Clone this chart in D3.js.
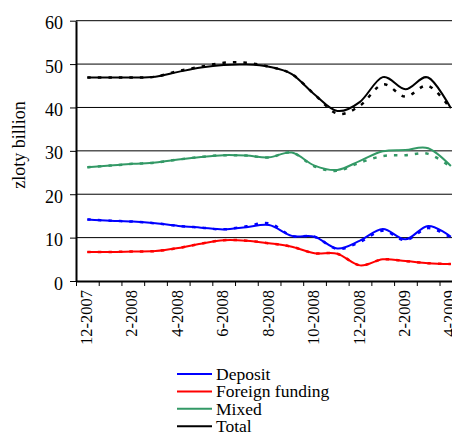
<!DOCTYPE html>
<html>
<head>
<meta charset="utf-8">
<script src="https://cdn.jsdelivr.net/npm/d3@7"></script>
<style>
  html, body { margin: 0; padding: 0; background: #fff; overflow: hidden; }
  svg { display: block; }
</style>
</head>
<body>
<svg id="chart" width="452" height="432"></svg>
<script>
// Monthly observations, 12-2007 to 4-2009 (zloty billion)
const months = ["12-2007","1-2008","2-2008","3-2008","4-2008","5-2008","6-2008","7-2008","8-2008",
                "9-2008","10-2008","11-2008","12-2008","1-2009","2-2009","3-2009","4-2009"];
const labelledMonths = ["12-2007","2-2008","4-2008","6-2008","8-2008","10-2008","12-2008","2-2009","4-2009"];
const yTicks = [0, 10, 20, 30, 40, 50, 60];

// Solid lines
const deposit  = [14.2, 13.9, 13.7, 13.3, 12.7, 12.3, 11.9, 12.4, 12.9, 10.4, 10.2, 7.5, 9.3, 12.0, 9.6, 12.7, 10.2];
const foreign  = [6.7, 6.7, 6.8, 6.9, 7.6, 8.6, 9.4, 9.3, 8.7, 7.9, 6.4, 6.3, 3.6, 5.0, 4.6, 4.1, 3.9];
const mixed    = [26.2, 26.6, 27.0, 27.3, 28.0, 28.6, 29.0, 28.9, 28.5, 29.6, 26.6, 25.6, 27.7, 29.9, 30.2, 30.6, 26.5];
const total    = [46.9, 46.9, 46.9, 47.1, 48.2, 49.2, 49.8, 49.9, 49.4, 47.7, 43.0, 39.2, 41.3, 47.0, 44.2, 46.9, 39.8];

// Dashed companion lines
const depositD = [14.2, 13.9, 13.7, 13.3, 12.7, 12.3, 11.9, 12.6, 13.3, 10.4, 10.2, 7.4, 9.0, 11.6, 9.4, 12.2, 10.0];
const foreignD = [6.7, 6.7, 6.8, 6.9, 7.6, 8.6, 9.4, 9.3, 8.7, 7.9, 6.4, 6.3, 3.6, 5.0, 4.6, 4.1, 3.9];
const mixedD   = [26.2, 26.6, 27.0, 27.3, 28.0, 28.6, 29.0, 28.9, 28.5, 29.6, 26.4, 25.4, 27.3, 28.8, 29.0, 29.3, 26.3];
const totalD   = [46.9, 46.9, 46.9, 47.1, 48.4, 49.4, 50.3, 50.3, 49.4, 47.7, 43.0, 38.6, 40.4, 45.3, 42.5, 45.0, 39.6];

const seriesNames  = ["Deposit", "Foreign funding", "Mixed", "Total"];
const seriesColors = ["#0000ff", "#ff0000", "#339966", "#000000"];
const solidSeries  = [deposit, foreign, mixed, total];
const dashedSeries = [depositD, foreignD, mixedD, totalD];

const FONT = "'Liberation Serif', Tinos, 'DejaVu Serif', 'Times New Roman', Times, serif";

const svg = d3.select("#chart").attr("font-family", FONT);
const plotLeft = 76, bandW = 22.72, plotBottom = 281, plotTop = 20.7;
const plotRight = plotLeft + bandW * months.length;

const x = d3.scaleBand().domain(months).range([plotLeft, plotRight]).paddingInner(0).paddingOuter(0);
const xEdge = d3.scaleLinear().domain([0, months.length]).range([plotLeft, plotRight]);
const y = d3.scaleLinear().domain([0, 60]).range([plotBottom, plotTop]);
const cx = m => x(m) + x.bandwidth() / 2;

// Horizontal gridlines
svg.append("g")
  .selectAll("line")
  .data(yTicks.filter(v => v > 0))
  .join("line")
  .attr("x1", plotLeft).attr("x2", plotRight)
  .attr("y1", d => y(d)).attr("y2", d => y(d))
  .attr("stroke", "#000").attr("stroke-width", 1);

// Y axis
const yAxis = svg.append("g")
  .attr("transform", `translate(${plotLeft},0)`)
  .call(d3.axisLeft(y).tickValues(yTicks).tickSize(6).tickPadding(7).tickSizeOuter(0))
  .attr("font-family", FONT).attr("font-size", 18);
yAxis.select(".domain").attr("stroke", "#000").attr("stroke-width", 2);
yAxis.selectAll(".tick line").attr("stroke", "#000");
yAxis.selectAll(".tick text").attr("dy", "0.45em").attr("fill", "#000");

// X axis: tick marks at month boundaries
const xTickAxis = svg.append("g")
  .attr("transform", `translate(0,${plotBottom})`)
  .call(d3.axisBottom(xEdge).tickValues(d3.range(0, months.length + 1)).tickSize(5).tickFormat("").tickSizeOuter(0));
xTickAxis.select(".domain").attr("stroke", "#000").attr("stroke-width", 2);
xTickAxis.selectAll(".tick line").attr("stroke", "#000");

// X axis: month labels centred in each band, rotated
const xLabelAxis = svg.append("g")
  .attr("transform", `translate(0,${plotBottom})`)
  .call(d3.axisBottom(x).tickValues(labelledMonths).tickSize(0).tickSizeOuter(0))
  .attr("font-family", FONT).attr("font-size", 16.5);
xLabelAxis.select(".domain").remove();
xLabelAxis.selectAll(".tick text")
  .attr("fill", "#000")
  .attr("text-anchor", "end")
  .attr("dominant-baseline", "central")
  .attr("dy", null)
  .attr("y", 0)
  .attr("transform", "translate(-1,9) rotate(-90)");

// Y axis title
svg.append("text")
  .attr("transform", "translate(19,145) rotate(-90)")
  .attr("text-anchor", "middle")
  .attr("dominant-baseline", "central")
  .attr("font-size", 18)
  .text("zloty billion");

// Smoothed lines
const line = d3.line()
  .x((d, i) => cx(months[i]))
  .y(d => y(d))
  .curve(d3.curveCatmullRom.alpha(0));

const lines = svg.append("g");
solidSeries.forEach((s, k) => {
  lines.append("path")
    .datum(s)
    .attr("d", line)
    .attr("fill", "none")
    .attr("stroke", seriesColors[k])
    .attr("stroke-width", 2)
    .attr("stroke-linejoin", "round");
});
dashedSeries.forEach((s, k) => {
  lines.append("path")
    .datum(s)
    .attr("d", line)
    .attr("fill", "none")
    .attr("stroke", seriesColors[k])
    .attr("stroke-width", 2.5)
    .attr("stroke-dasharray", "3.5 7");
});

// Legend
const legend = svg.append("g").attr("transform", "translate(177,374)");
const rowH = 17.4;
seriesNames.forEach((name, i) => {
  const row = legend.append("g").attr("transform", `translate(0,${i * rowH})`);
  row.append("line")
    .attr("x1", 0).attr("x2", 35).attr("y1", 0).attr("y2", 0)
    .attr("stroke", seriesColors[i]).attr("stroke-width", 2);
  row.append("text")
    .attr("x", 39).attr("y", 0)
    .attr("dominant-baseline", "central")
    .attr("font-size", 17.5)
    .text(name);
});
</script>
</body>
</html>
